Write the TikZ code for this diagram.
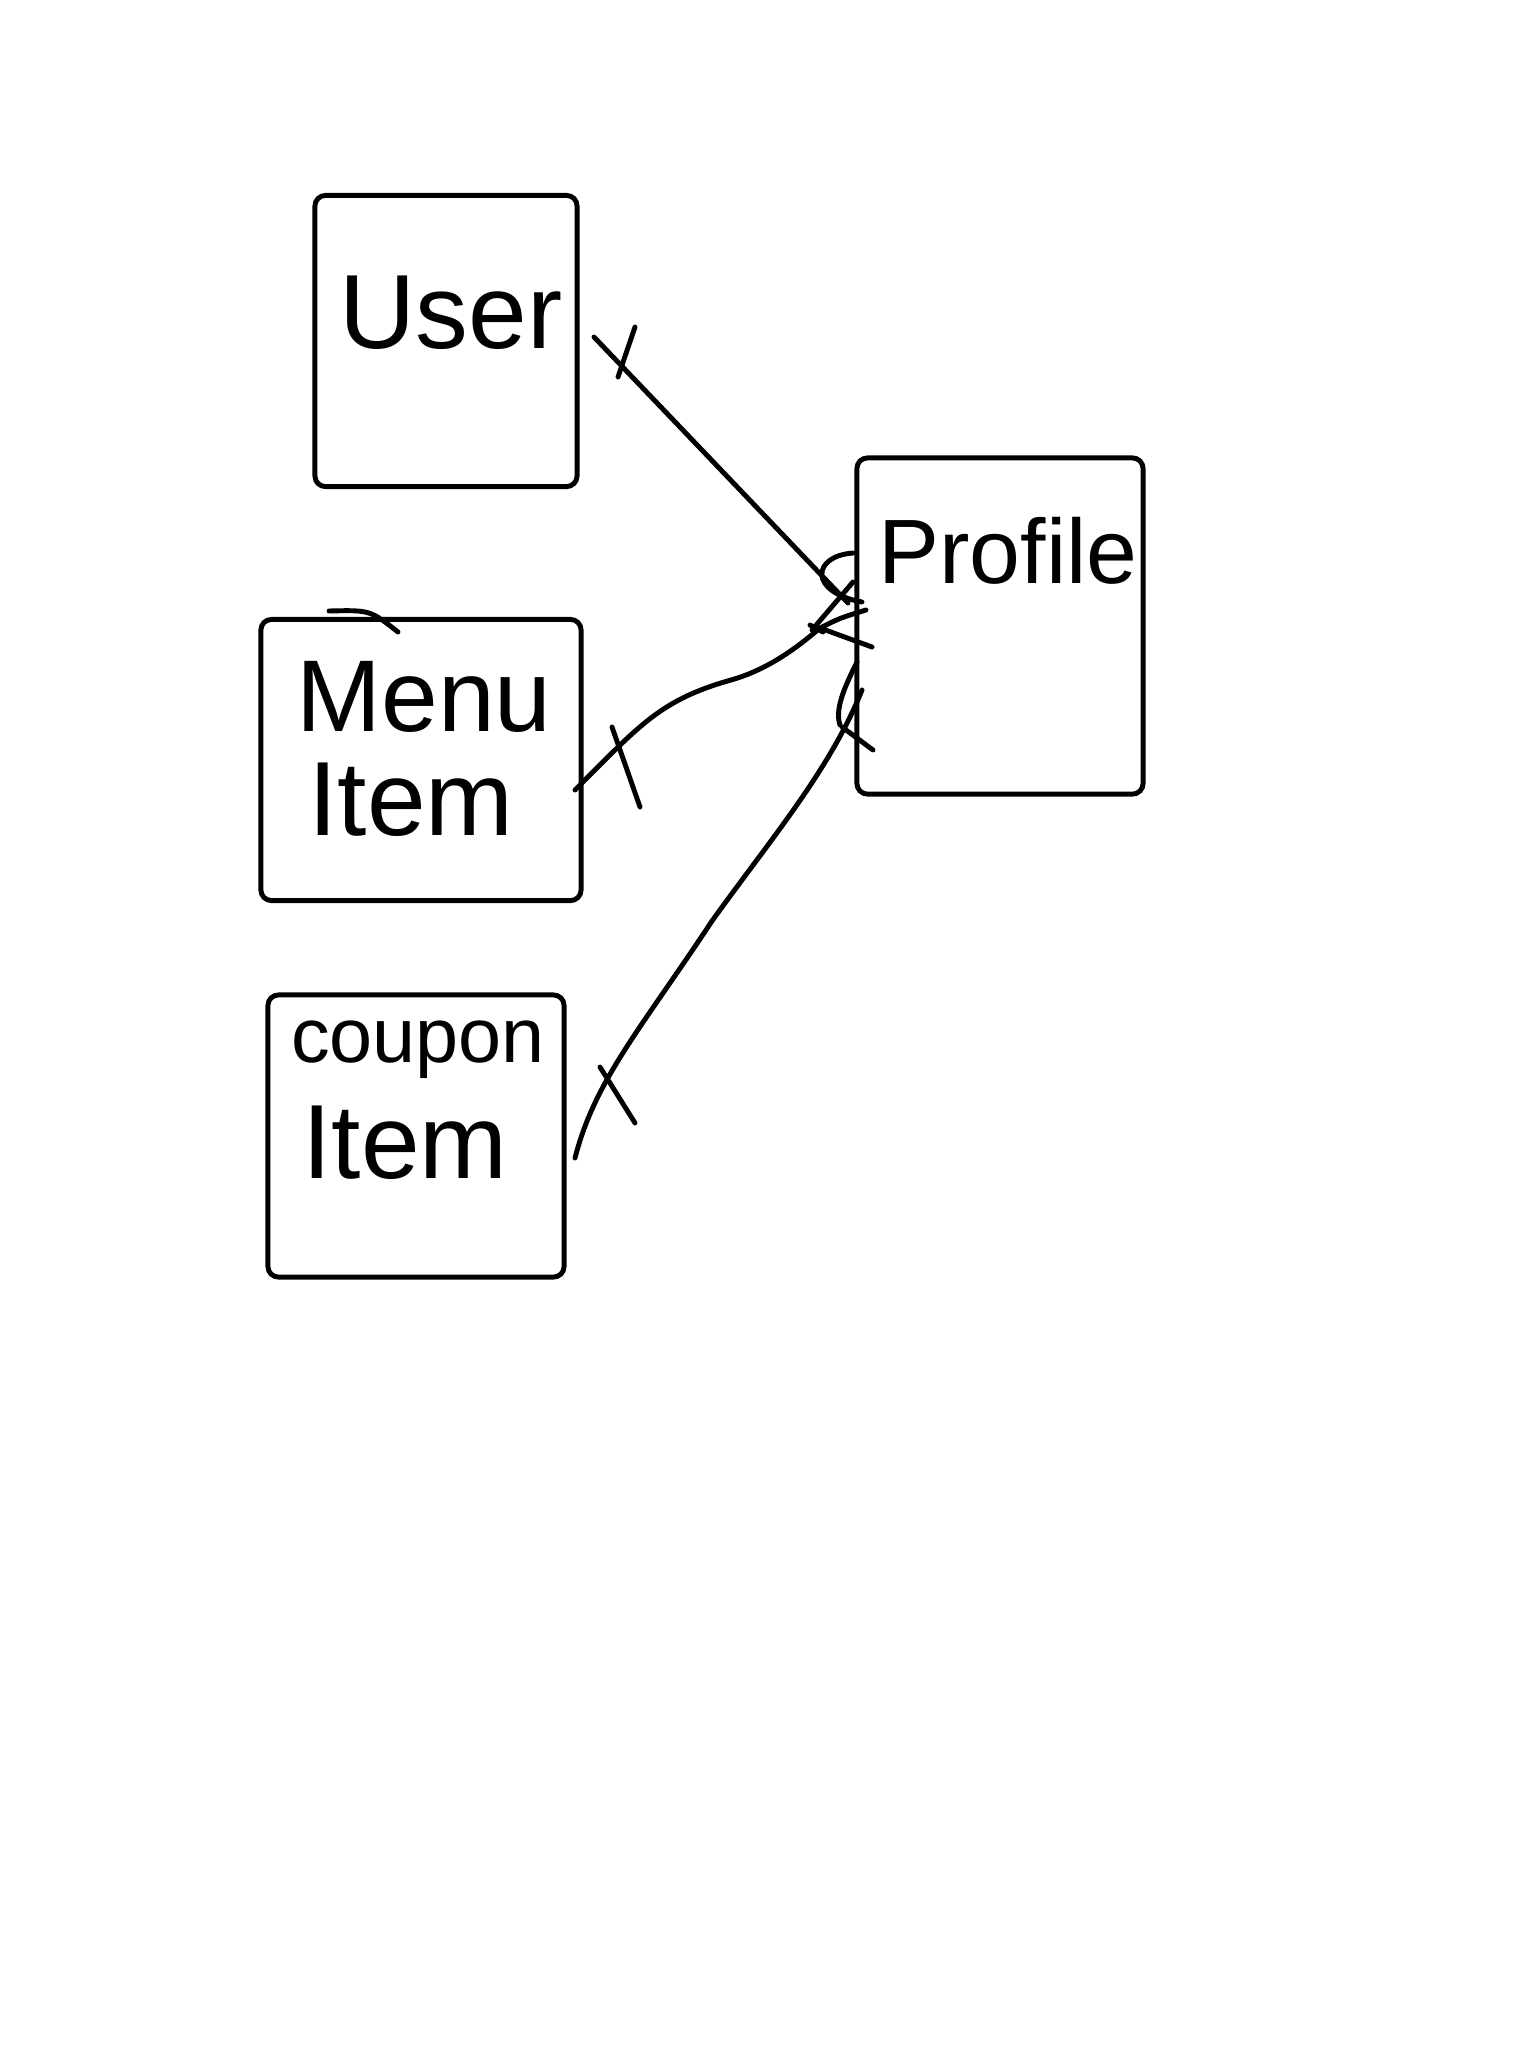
\documentclass[tikz,border=0pt]{standalone}
\usepackage{fontspec}
\setmainfont{Liberation Sans}
\begin{document}
\begin{tikzpicture}[x=0.01cm,y=-0.01cm,
   entity/.style={draw,line width=1.4pt,rounded corners=3pt,inner sep=0pt},
   hand/.style={font=\fontsize{30}{34}\selectfont},
   rel/.style={line width=1.4pt,line cap=round,line join=round}]

   \useasboundingbox (0,0) rectangle (1536,2048);

   % boxes
   \node (User) at (446,341) [entity,minimum width=2.62cm,minimum height=2.91cm] {};
   \node (MenuItem) at (421,760) [entity,minimum width=3.20cm,minimum height=2.81cm] {};
   \node (CouponItem) at (416,1136) [entity,minimum width=2.96cm,minimum height=2.82cm] {};
   \node (Profile) at (1000,626) [entity,minimum width=2.86cm,minimum height=3.36cm] {};

   % texts
   \node (UserText) at (451,313) [hand] {User};
   \node (MenuText) at (424,697) [hand,font=\fontsize{29}{32}\selectfont] {Menu};
   \node (MenuItemText) at (411,800) [hand,font=\fontsize{30}{32}\selectfont] {Item};
   \node (CouponText) at (418,1050) [hand,font=\fontsize{22}{26}\selectfont] {coupon};
   \node (CouponItemText) at (405,1143) [hand] {Item};
   \node (ProfileText) at (1008,551) [hand,font=\fontsize{26}{30}\selectfont] {Profile};

   % connector ends
   \coordinate (UserEnd) at (594,337);
   \coordinate (UserFoot) at (848,603);
   \coordinate (MenuEnd) at (575,790);
   \coordinate (MenuFoot) at (820,628);
   \coordinate (CouponEnd) at (575,1158);
   \coordinate (CouponFoot) at (862,690);

   % User -- Profile
   \draw [rel] (UserEnd) -- (UserFoot);
   \draw [rel] (635,327) -- (618,377);
   \draw [rel] (853,553) .. controls (812,556) and (808,592) .. (862,602);
   \draw [rel] (853,582) -- (812,630);

   % MenuItem -- Profile
   \draw [rel] (MenuEnd) .. controls (640,725) and (660,700) .. (731,680)
                .. controls (770,669) and (800,645) .. (MenuFoot);
   \draw [rel] (612,727) -- (640,807);
   \draw [rel] (MenuFoot) .. controls (840,618) .. (866,610);
   \draw [rel] (MenuFoot) -- (872,647);
   \draw [rel] (810,625) -- (823,632);

   % CouponItem -- Profile
   \draw [rel] (CouponEnd) .. controls (595,1080) and (640,1030) .. (712,921)
                .. controls (770,840) and (830,770) .. (CouponFoot);
   \draw [rel] (600,1067) -- (635,1123);
   \draw [rel] (857,662) .. controls (843,690) and (835,710) .. (840,725);
   \draw [rel] (842,727) -- (873,750);

   % stray stroke over MenuItem
   \draw [rel] (329,611) .. controls (370,610) .. (398,632);

\end{tikzpicture}
\end{document}
